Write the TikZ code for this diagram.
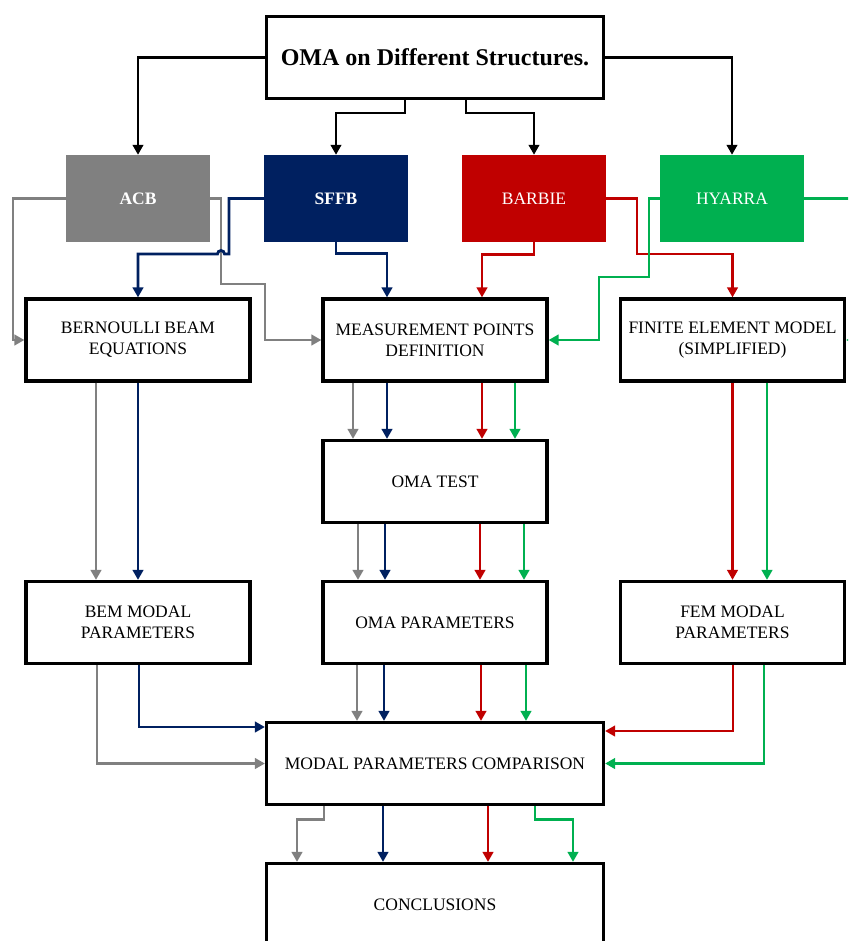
\documentclass[tikz,border=0pt]{standalone}
\usepackage{fontspec}
\setmainfont{Liberation Serif}
\usetikzlibrary{arrows.meta}
\definecolor{cgray}{HTML}{808080}
\definecolor{cnavy}{HTML}{002060}
\definecolor{cred}{HTML}{C00000}
\definecolor{cgreen}{HTML}{00B050}
\begin{document}
\begin{tikzpicture}[x=1pt,y=-1pt,
  txt/.style={font=\fontsize{17.5}{21}\selectfont},
  box/.style={txt, draw=black, line width=3.2pt, fill=white, align=center, inner sep=0pt,
    minimum width=224pt, minimum height=82pt},
  widebox/.style={box, minimum width=337pt},
  struct/.style={txt, text=white, align=center, inner sep=0pt,
    minimum width=144pt, minimum height=87pt},
  conn/.style={line width=2.8pt, -{Triangle[length=10pt,width=10.5pt]}},
  ck/.style={conn, draw=black},
  cg/.style={conn, draw=cgray},
  cn/.style={conn, draw=cnavy},
  cr/.style={conn, draw=cred},
  cq/.style={conn, draw=cgreen}]
\useasboundingbox (0,0) rectangle (848,941);
\clip (0,0) rectangle (848,941);

% boxes
\node[widebox, font=\fontsize{24}{28}\selectfont\bfseries] (top) at (435,57.5) {OMA on Different Structures.};
\node[struct, fill=cgray, font=\fontsize{17.5}{21}\selectfont\bfseries] (acb) at (138,198.5) {ACB};
\node[struct, fill=cnavy, font=\fontsize{17.5}{21}\selectfont\bfseries] (sffb) at (336,198.5) {SFFB};
\node[struct, fill=cred] (barbie) at (534,198.5) {BARBIE};
\node[struct, fill=cgreen] (hyarra) at (732,198.5) {HYARRA};

\node[box] (bern) at (138,340) {BERNOULLI BEAM\\EQUATIONS};
\node[box] (meas) at (435,340) {MEASUREMENT POINTS\\DEFINITION};
\node[box] (fem) at (732.5,340) {FINITE ELEMENT MODEL\\(SIMPLIFIED)};
\node[box] (test) at (435,481.5) {OMA TEST};
\node[box] (bem) at (138,622.5) {BEM MODAL\\PARAMETERS};
\node[box] (params) at (435,622.5) {OMA PARAMETERS};
\node[box] (femmod) at (732.5,622.5) {FEM MODAL\\PARAMETERS};
\node[widebox] (comp) at (435,763.5) {MODAL PARAMETERS COMPARISON};
\node[widebox] (concl) at (435,904.5) {CONCLUSIONS};

% title to structures
\draw[ck] (top.west) -| (acb.north);
\draw[ck] (top.east) -| (hyarra.north);
\draw[ck] ([xshift=-30pt]top.south) -- ++(0,13) -| (sffb.north);
\draw[ck] ([xshift=31pt]top.south) -- ++(0,13) -| (barbie.north);

% ACB
\draw[cg] (acb.west) -| (13,340) -- (bern.west);
\draw[cg] (acb.east) -| (221,284) -| (265,340) -- (meas.west);
% SFFB
\draw[cn] (sffb.west) -| (229,254) -- (224.5,254)
  arc[start angle=0, end angle=180, radius=3.5pt] -- (138,254) -- (bern.north);
\draw[cn] (sffb.south) -- ++(0,11.5) -| ([xshift=-48pt]meas.north);
% BARBIE
\draw[cr] (barbie.south) -- ++(0,12) -| ([xshift=47pt]meas.north);
\draw[cr] (barbie.east) -| (637,254) -| (fem.north);
% HYARRA
\draw[cq] (hyarra.west) -| (649,277) -| (599,340) -- (meas.east);
\draw[cq] (hyarra.east) -- (875,198.5) -- (875,340) -- (fem.east);

% measurement points -> OMA test
\draw[cg] ([xshift=-82pt]meas.south) -- ([xshift=-82pt]test.north);
\draw[cn] ([xshift=-48pt]meas.south) -- ([xshift=-48pt]test.north);
\draw[cr] ([xshift=47pt]meas.south) -- ([xshift=47pt]test.north);
\draw[cq] ([xshift=80pt]meas.south) -- ([xshift=80pt]test.north);
% OMA test -> OMA parameters
\draw[cg] ([xshift=-77pt]test.south) -- ([xshift=-77pt]params.north);
\draw[cn] ([xshift=-50pt]test.south) -- ([xshift=-50pt]params.north);
\draw[cr] ([xshift=45pt]test.south) -- ([xshift=45pt]params.north);
\draw[cq] ([xshift=89pt]test.south) -- ([xshift=89pt]params.north);
% Bernoulli -> BEM
\draw[cg] ([xshift=-42pt]bern.south) -- ([xshift=-42pt]bem.north);
\draw[cn] (bern.south) -- (bem.north);
% FEM -> FEM modal
\draw[cr] (fem.south) -- (femmod.north);
\draw[cq] ([xshift=34.5pt]fem.south) -- ([xshift=34.5pt]femmod.north);

% parameters -> comparison
\draw[cn] ([xshift=1pt]bem.south) |- ([yshift=36.5pt]comp.west);
\draw[cg] ([xshift=-41pt]bem.south) |- (comp.west);
\draw[cg] ([xshift=-78pt]params.south) -- ([xshift=-78pt]comp.north);
\draw[cn] ([xshift=-51pt]params.south) -- ([xshift=-51pt]comp.north);
\draw[cr] ([xshift=46pt]params.south) -- ([xshift=46pt]comp.north);
\draw[cq] ([xshift=91pt]params.south) -- ([xshift=91pt]comp.north);
\draw[cr] ([xshift=0.5pt]femmod.south) |- ([yshift=32.5pt]comp.east);
\draw[cq] ([xshift=31.5pt]femmod.south) |- (comp.east);

% comparison -> conclusions
\draw[cg] ([xshift=-111pt]comp.south) -- ++(0,13) -| ([xshift=-138pt]concl.north);
\draw[cn] ([xshift=-52pt]comp.south) -- ([xshift=-52pt]concl.north);
\draw[cr] ([xshift=53pt]comp.south) -- ([xshift=53pt]concl.north);
\draw[cq] ([xshift=100pt]comp.south) -- ++(0,13) -| ([xshift=138pt]concl.north);
\end{tikzpicture}
\end{document}
